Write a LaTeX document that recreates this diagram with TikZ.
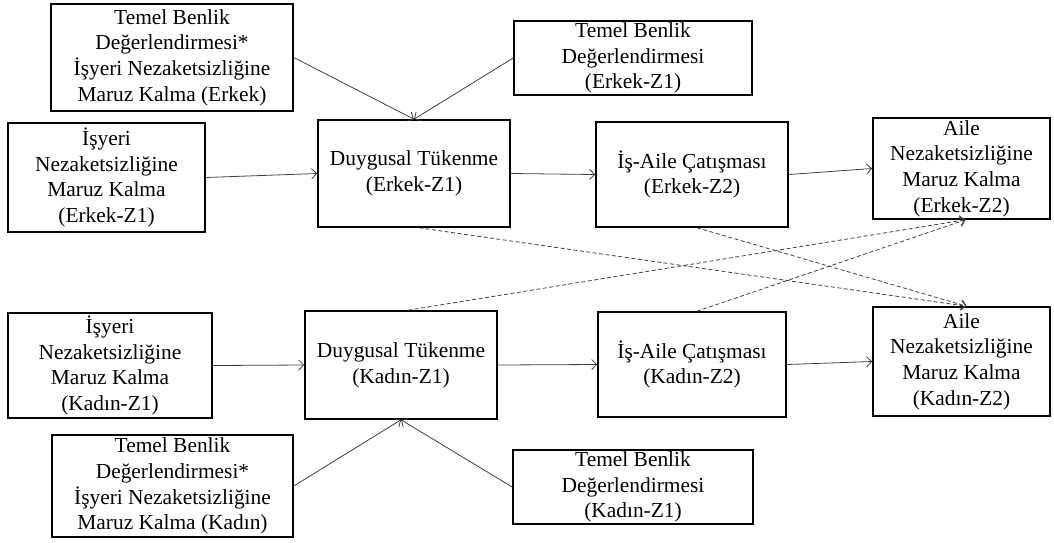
\documentclass[tikz,border=0pt]{standalone}
\usepackage{fontspec}
\setmainfont{Liberation Serif}
\usetikzlibrary{arrows.meta}
\begin{document}
\begin{tikzpicture}[x=1pt,y=-1pt,
  box/.style={draw=black,line width=1.6pt,inner sep=0pt,align=center,
    font=\fontsize{21.4}{25.7}\selectfont},
  conn/.style={draw=black!75,line width=0.8pt,-{Straight Barb[length=5pt,width=10pt]}},
  dconn/.style={conn,dash pattern=on 4pt off 2.5pt}]
\useasboundingbox (0,0) rectangle (1054,542);
\node[box,minimum width=242,minimum height=107] (A) at (172,57.5)
  {Temel Benlik\\Değerlendirmesi*\\İşyeri Nezaketsizliğine\\Maruz Kalma (Erkek)};
\node[box,minimum width=238,minimum height=74] (B) at (633,58)
  {Temel Benlik\\Değerlendirmesi\\(Erkek-Z1)};
\node[box,minimum width=197,minimum height=109] (C) at (106.5,177.5)
  {İşyeri\\Nezaketsizliğine\\Maruz Kalma\\(Erkek-Z1)};
\node[box,minimum width=192,minimum height=107] (D) at (414,173.5)
  {Duygusal Tükenme\\(Erkek-Z1)};
\node[box,minimum width=192,minimum height=105] (E) at (692,174.5)
  {İş-Aile Çatışması\\(Erkek-Z2)};
\node[box,minimum width=177,minimum height=101] (F) at (961.5,168.5)
  {Aile\\Nezaketsizliğine\\Maruz Kalma\\(Erkek-Z2)};
\node[box,minimum width=204,minimum height=105] (G) at (110,365.5)
  {İşyeri\\Nezaketsizliğine\\Maruz Kalma\\(Kadın-Z1)};
\node[box,minimum width=192,minimum height=108] (H) at (401,365)
  {Duygusal Tükenme\\(Kadın-Z1)};
\node[box,minimum width=188,minimum height=105] (I) at (692,364.5)
  {İş-Aile Çatışması\\(Kadın-Z2)};
\node[box,minimum width=177,minimum height=109] (J) at (961.5,361.5)
  {Aile\\Nezaketsizliğine\\Maruz Kalma\\(Kadın-Z2)};
\node[box,minimum width=241,minimum height=102] (K) at (172.5,486)
  {Temel Benlik\\Değerlendirmesi*\\İşyeri Nezaketsizliğine\\Maruz Kalma (Kadın)};
\node[box,minimum width=240,minimum height=74] (L) at (633,487)
  {Temel Benlik\\Değerlendirmesi\\(Kadın-Z1)};
\draw[conn] (A.east) -- (D.north);
\draw[conn] (B.west) -- (D.north);
\draw[conn] (C.east) -- (D.west);
\draw[conn] (D.east) -- (E.west);
\draw[conn] (E.east) -- (F.west);
\draw[conn] (G.east) -- (H.west);
\draw[conn] (H.east) -- (I.west);
\draw[conn] (I.east) -- (J.west);
\draw[conn] (K.east) -- (H.south);
\draw[conn] (L.west) -- (H.south);
\draw[dconn] ([xshift=5pt]D.south) -- ([xshift=5pt]J.north);
\draw[dconn] ([xshift=5pt]E.south) -- ([xshift=5pt]J.north);
\draw[dconn] ([xshift=7pt]H.north) -- ([xshift=4pt]F.south);
\draw[dconn] ([xshift=5pt]I.north) -- ([xshift=4pt]F.south);
\end{tikzpicture}
\end{document}
